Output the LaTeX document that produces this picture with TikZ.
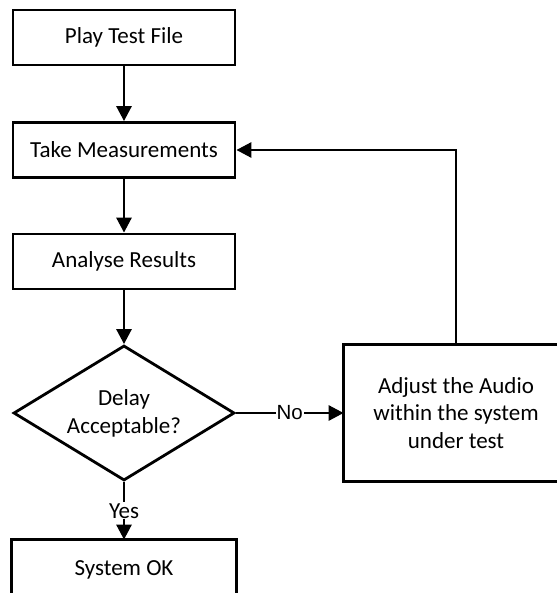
\documentclass[tikz,border=0pt]{standalone}
\usepackage{fontspec}
\setmainfont{Carlito}
\newfontfamily\branchfont{Liberation Sans}
\usetikzlibrary{shapes.geometric,arrows.meta}
\begin{document}
\begin{tikzpicture}[x=1pt,y=-1pt,
  box/.style={draw, line width=2.8pt, minimum width=222pt, minimum height=55pt,
    inner sep=0pt, align=center, font=\fontsize{23}{27.5}\selectfont},
  openbox/.style={box, draw=none},
  outline/.style={line width=2.8pt, line join=miter},
  decision/.style={draw, diamond, aspect=1.64, line width=2.8pt,
    minimum width=221pt, minimum height=135pt, inner sep=0pt, align=center,
    font=\fontsize{23}{28}\selectfont},
  flow/.style={line width=2.8pt, -{Triangle[length=15pt,width=15pt]}},
  nolabel/.style={fill=white, inner sep=1pt, font=\branchfont\fontsize{20.5}{24}\selectfont},
  yeslabel/.style={fill=white, inner sep=1pt, font=\fontsize{23}{27.5}\selectfont}]

  \fill[white] (0,0) rectangle (558,593);
  \useasboundingbox (0,0) rectangle (558,593);

  % process steps
  \node[box] (play)    at (124,37.5)  {Play Test File};
  \node[box] (take)    at (124,150)   {Take Measurements};
  \node[box] (analyse) at (124,261.5) {Analyse Results};
  \node[decision] (delay) at (124,413) {Delay\\Acceptable?};
  \node[openbox, minimum height=134pt] (adjust) at (456,413)
    {Adjust the Audio\\within the system\\under test};
  \node[openbox, minimum height=57pt] (ok) at (124,569.5) {System OK};

  % outlines of the two boxes that run off the edge of the page
  \coordinate (adjust-ne) at (adjust.north -| 556.5,0);
  \coordinate (adjust-se) at (adjust.south -| 556.5,0);
  \draw[outline] (adjust-ne) -- (adjust.north west)
    -- (adjust.south west) -- (adjust-se);
  \coordinate (ok-sw) at (ok.west |- 0,595);
  \coordinate (ok-se) at (ok.east |- 0,595);
  \draw[outline] (ok-sw) -- (ok.north west)
    -- (ok.north east) -- (ok-se);

  % connectors
  \draw[flow] (play) -- (take);
  \draw[flow] (take) -- (analyse);
  \draw[flow] (analyse) -- (delay);
  \draw[flow] (delay) -- node[nolabel] {No} (adjust);
  \draw[flow] (delay) -- node[yeslabel] {Yes} (ok);
  \draw[flow] (adjust.north) |- (take.east);
\end{tikzpicture}
\end{document}
